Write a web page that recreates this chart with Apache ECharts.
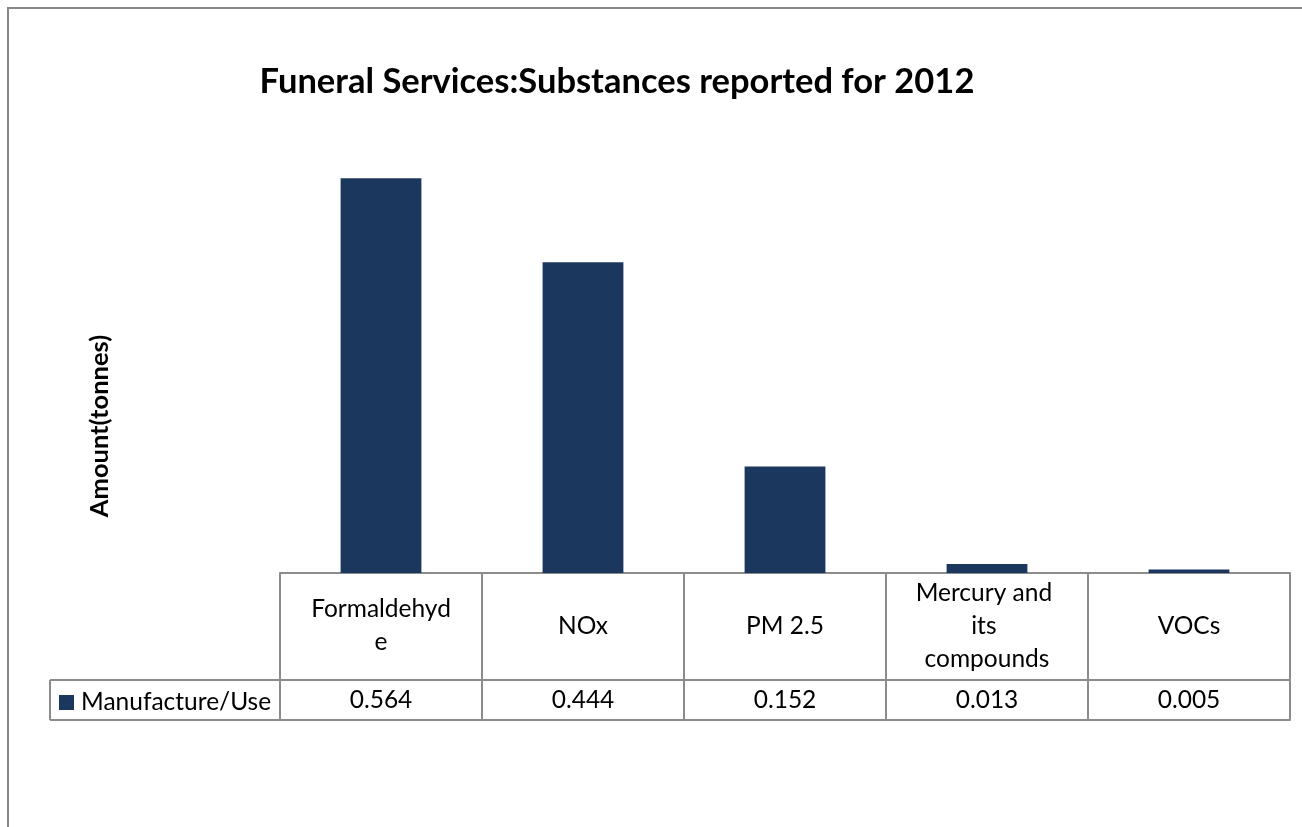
<!DOCTYPE html>
<html>
<head>
<meta charset="utf-8">
<script src="https://cdn.jsdelivr.net/npm/echarts@6/dist/echarts.min.js"></script>
<style>
html,body{margin:0;padding:0;background:#fff;}
#chart{width:1302px;height:827px;}
</style>
</head>
<body>
<div id="chart"></div>
<script>
const chartTitle = 'Funeral Services:Substances reported for 2012';
const yAxisTitle = 'Amount(tonnes)';
const seriesName = 'Manufacture/Use';
const categories = ['Formaldehyde', 'NOx', 'PM 2.5', 'Mercury and its compounds', 'VOCs'];
const values = [0.564, 0.444, 0.152, 0.013, 0.005];
const valueLabels = values.map(v => v.toFixed(3));

const FONT = 'Lato';
const LINE = '#8c8c8c';
const BAR = '#1b375e';
const FS = 24.5;

const chart = echarts.init(document.getElementById('chart'), null, {renderer: 'canvas'});
const gridLeft = 280, gridRight = 12, gridTop = 153, gridBottom = 254;
const headerH = 107, tableH = 147, legendLeft = 50;
const axisY = 827 - gridBottom;

chart.setOption({
  backgroundColor: '#ffffff',
  animation: false,
  title: {
    text: chartTitle,
    left: 617,
    textAlign: 'center',
    top: 64,
    padding: 0,
    textStyle: {fontFamily: FONT, fontWeight: 'bold', fontSize: 34.5, color: '#000'}
  },
  legend: {
    data: [seriesName],
    left: 59,
    top: 690,
    padding: 0,
    itemWidth: 15,
    itemHeight: 15,
    icon: 'rect',
    textStyle: {fontFamily: FONT, fontSize: FS, lineHeight: 22, color: '#000', padding: [0, 0, 0, 2]}
  },
  grid: {left: gridLeft, right: gridRight, top: gridTop, bottom: gridBottom, containLabel: false},
  xAxis: [
    {
      type: 'category',
      data: categories,
      position: 'bottom',
      axisLine: {show: true, lineStyle: {color: LINE, width: 2}},
      axisTick: {show: true, interval: 0, length: tableH, lineStyle: {color: LINE, width: 2}},
      axisLabel: {
        interval: 0, margin: 53, verticalAlign: 'middle',
        width: 148, overflow: 'break', lineHeight: 33,
        fontFamily: FONT, fontSize: FS, color: '#000'
      }
    },
    {
      type: 'category',
      data: valueLabels,
      position: 'bottom',
      offset: headerH,
      axisLine: {show: true, lineStyle: {color: LINE, width: 2}},
      axisTick: {show: false},
      axisLabel: {interval: 0, margin: 20, verticalAlign: 'middle', fontFamily: FONT, fontSize: FS, color: '#000'}
    },
    {
      type: 'category',
      data: categories,
      position: 'bottom',
      offset: tableH,
      axisLine: {show: true, lineStyle: {color: LINE, width: 2}},
      axisTick: {show: false},
      axisLabel: {show: false}
    }
  ],
  yAxis: {
    type: 'value',
    min: 0,
    max: 0.6,
    interval: 0.1,
    axisLine: {show: false},
    axisTick: {show: false},
    axisLabel: {show: false},
    splitLine: {show: false},
    name: yAxisTitle,
    nameLocation: 'middle',
    nameGap: 167,
    nameTextStyle: {fontFamily: FONT, fontWeight: 'bold', fontSize: 25.5, color: '#000', padding: [0, 126, 0, 0]}
  },
  series: [{
    name: seriesName,
    type: 'bar',
    xAxisIndex: 0,
    data: values,
    barWidth: '40%',
    itemStyle: {color: BAR}
  }],
  graphic: [
    {type: 'rect', shape: {x: 8, y: 8, width: 1400, height: 900}, style: {fill: 'none', stroke: '#888', lineWidth: 2}, silent: true},
    {type: 'line', shape: {x1: legendLeft, y1: axisY + headerH, x2: gridLeft, y2: axisY + headerH}, style: {stroke: LINE, lineWidth: 2}},
    {type: 'line', shape: {x1: legendLeft, y1: axisY + tableH, x2: gridLeft, y2: axisY + tableH}, style: {stroke: LINE, lineWidth: 2}},
    {type: 'line', shape: {x1: legendLeft, y1: axisY + headerH, x2: legendLeft, y2: axisY + tableH}, style: {stroke: LINE, lineWidth: 2}}
  ]
});
</script>
</body>
</html>
